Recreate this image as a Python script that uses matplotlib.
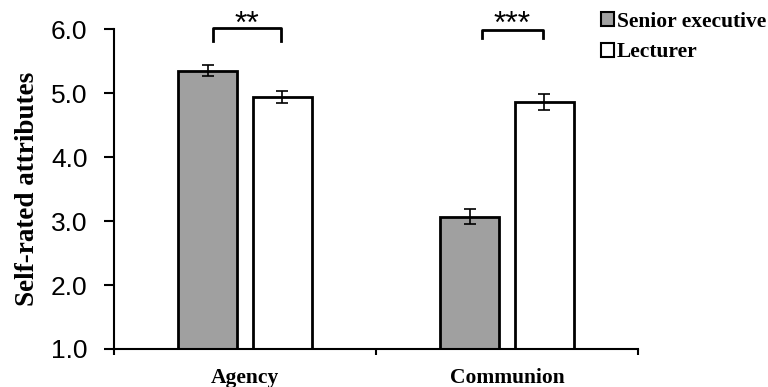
import numpy as np
import matplotlib
matplotlib.use("Agg")
import matplotlib.pyplot as plt
from matplotlib.patches import Patch

# Daten
categories = ["Agency", "Communion"]
groups = ["Senior executive", "Lecturer"]
senior_means = [5.35, 3.07]
senior_err = [0.09, 0.12]
lecturer_means = [4.94, 4.86]
lecturer_err = [0.09, 0.12]
sig_labels = ["**", "***"]

serif = ["Liberation Serif", "DejaVu Serif"]
sans = ["Liberation Sans", "DejaVu Sans"]

fig = plt.figure(figsize=(7.68, 3.87), dpi=100)
ax = fig.add_axes([0.1484, 0.0982, 0.6823, 0.8268])

x = np.arange(len(categories))
w = 0.225
off = 0.143

ax.bar(x - off, np.array(senior_means) - 1, w, bottom=1, color="#a0a0a0",
       edgecolor="black", linewidth=2, zorder=2)
ax.bar(x + off, np.array(lecturer_means) - 1, w, bottom=1, color="white",
       edgecolor="black", linewidth=2, zorder=2)
ax.errorbar(x - off, senior_means, yerr=senior_err, fmt="none", ecolor="black",
            elinewidth=1.2, capsize=4, capthick=1.2, zorder=3)
ax.errorbar(x + off, lecturer_means, yerr=lecturer_err, fmt="none", ecolor="black",
            elinewidth=1.2, capsize=4, capthick=1.2, zorder=3)

# Signifikanz-Klammern
bracket_top = [6.02, 5.99]
bracket_bottom = [5.81, 5.86]
left_inset = [0.021, 0.048]
for i, lab in enumerate(sig_labels):
    x0 = x[i] - off + left_inset[i]
    x1 = x[i] + off - 0.006
    ax.plot([x0, x0, x1, x1], [bracket_bottom[i], bracket_top[i], bracket_top[i], bracket_bottom[i]],
            color="black", linewidth=2, clip_on=False)
    ax.annotate(lab, xy=((x0 + x1) / 2, 6.0), xytext=(0, -3), textcoords="offset points",
                ha="center", va="baseline", fontsize=23, family=sans,
                annotation_clip=False)

ax.set_xlim(-0.5, 1.5)
ax.set_ylim(1, 6)
ax.set_yticks([1, 2, 3, 4, 5, 6])
ax.set_yticklabels([f"{v:.1f}" for v in [1, 2, 3, 4, 5, 6]], family=sans, fontsize=19)
ax.tick_params(axis="y", direction="out", length=7, width=1.5, pad=12)

ax.set_xticks([-0.5, 0.5, 1.5])
ax.set_xticklabels([])
ax.tick_params(axis="x", which="major", direction="out", length=4.5, width=1.5)
ax.set_xticks(x, minor=True)
ax.set_xticklabels(categories, minor=True, family=serif, fontweight="bold", fontsize=15.5)
ax.tick_params(axis="x", which="minor", length=0, pad=14)

for s in ["top", "right"]:
    ax.spines[s].set_visible(False)
for s in ["left", "bottom"]:
    ax.spines[s].set_linewidth(1.5)

ax.set_ylabel("Self-rated attributes", family=serif, fontweight="bold", fontsize=19.5, labelpad=8)

handles = [Patch(facecolor="#a0a0a0", edgecolor="black", linewidth=1.5),
           Patch(facecolor="white", edgecolor="black", linewidth=1.5)]
fig.legend(handles, groups, loc="upper left", bbox_to_anchor=(0.757, 1.02),
           frameon=False, handlelength=0.6, handleheight=0.6, handletextpad=0.15,
           labelspacing=0.5, prop={"family": serif, "weight": "bold", "size": 15.5})

fig.savefig("out.png", dpi=100)
